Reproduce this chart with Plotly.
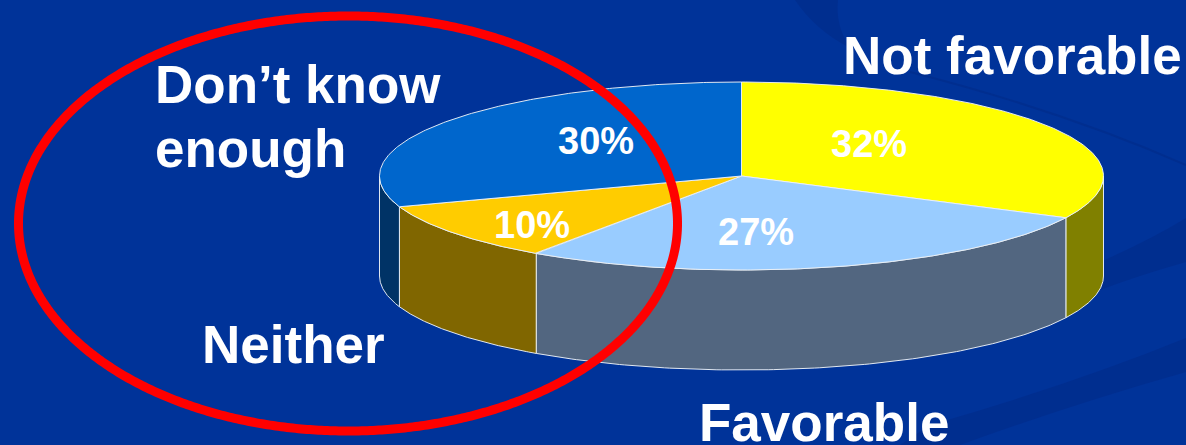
import numpy as np
import plotly.graph_objects as go

# Data
categories = ["Not favorable", "Favorable", "Neither", "Don\u2019t know enough"]
shares = [32, 27, 10, 30]
top_colors = ["#FFFF00", "#99CCFF", "#FFCC00", "#0066CC"]
side_colors = ["#808000", "#526680", "#806600", "#003366"]
pct_labels = ["32%", "27%", "10%", "30%"]

# Geometry of the pie
CX, CY, RX, RY, DEPTH = 741.5, 176.0, 362.0, 94.0, 100.0
W, H = 1186, 445
EDGE = "rgba(235,240,245,0.95)"

totals = np.cumsum([0] + shares) / sum(shares) * 2 * np.pi


def rim(a, drop=0.0):
    return CX + RX * np.sin(a), CY - RY * np.cos(a) + drop


fig = go.Figure()

# Side walls: only the front half of the rim (pi/2 .. 3pi/2) is visible
for i in range(len(shares)):
    a0 = max(totals[i], np.pi / 2)
    a1 = min(totals[i + 1], 3 * np.pi / 2)
    if a1 <= a0:
        continue
    t = np.linspace(a0, a1, 120)
    xt, yt = rim(t)
    xb, yb = rim(t[::-1], DEPTH)
    fig.add_trace(go.Scatter(
        x=np.r_[xt, xb, xt[0]], y=np.r_[yt, yb, yt[0]],
        mode="lines", fill="toself", fillcolor=side_colors[i],
        line=dict(color=EDGE, width=1), hoverinfo="skip", showlegend=False))

# Top faces
for i in range(len(shares)):
    t = np.linspace(totals[i], totals[i + 1], 200)
    xt, yt = rim(t)
    fig.add_trace(go.Scatter(
        x=np.r_[CX, xt, CX], y=np.r_[CY, yt, CY],
        mode="lines", fill="toself", fillcolor=top_colors[i],
        line=dict(color=EDGE, width=1), hoverinfo="skip", showlegend=False))

# Red highlight ellipse around the two smaller groups
t = np.linspace(0, 2 * np.pi, 720)
fig.add_trace(go.Scatter(
    x=348 + 329.5 * np.cos(t), y=223.5 + 207.5 * np.sin(t),
    mode="lines", line=dict(color="#FF0000", width=9, simplify=False),
    hoverinfo="skip", showlegend=False))

FONT = "Liberation Sans, Arial, sans-serif"
anns = []
for txt, x, y in zip(pct_labels, [869, 756, 532, 596], [144, 232, 225, 141]):
    anns.append(dict(x=x, y=y, text=f"<b>{txt}</b>", showarrow=False,
                     xanchor="center", yanchor="middle",
                     font=dict(family=FONT, size=38, color="white")))
for txt, x, y in [("Not favorable", 843, 55), ("Don\u2019t know", 155, 84),
                  ("enough", 155, 148), ("Neither", 202, 344),
                  ("Favorable", 699, 422)]:
    anns.append(dict(x=x, y=y, text=f"<b>{txt}</b>", showarrow=False,
                     xanchor="left", yanchor="middle", xshift=-2,
                     font=dict(family=FONT, size=53, color="white")))

swoosh = "rgba(0,38,125,0.35)"
shapes = [
    dict(type="path", layer="below", line=dict(width=0), fillcolor=swoosh,
         path="M 1100 262 Q 1150 240 1186 218 L 1186 262 Q 1140 275 1100 290 Z"),
    dict(type="path", layer="below", line=dict(width=0), fillcolor=swoosh,
         path="M 930 425 Q 1070 385 1186 338 L 1186 372 Q 1070 405 960 445 L 900 445 Z"),
    dict(type="path", layer="below", line=dict(width=0), fillcolor=swoosh,
         path="M 795 0 Q 815 30 850 48 Q 835 25 838 0 Z"),
    dict(type="path", layer="below", line=dict(color=swoosh, width=2),
         path="M 910 72 Q 1060 110 1186 165"),
]

fig.update_layout(
    width=W, height=H, autosize=False,
    margin=dict(l=0, r=0, t=0, b=0),
    paper_bgcolor="#003399", plot_bgcolor="#003399",
    xaxis=dict(range=[0, W], visible=False, fixedrange=True),
    yaxis=dict(range=[H, 0], visible=False, fixedrange=True),
    showlegend=False, annotations=anns, shapes=shapes,
)

fig.write_html("out.html", config=dict(displayModeBar=False),
               post_script="document.body.style.margin='0';document.body.style.background='#003399';")
